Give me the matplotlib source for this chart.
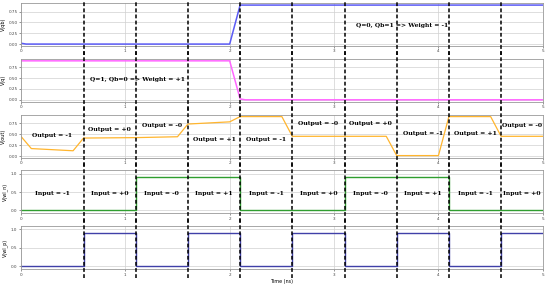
import matplotlib
matplotlib.use("Agg")
import matplotlib.pyplot as plt

# boundaries between input phases (ns)
phase_edges = [0.6, 1.1, 1.6, 2.1, 2.6, 3.1, 3.6, 4.1, 4.6]
label_x = [0.3, 0.85, 1.35, 1.85, 2.35, 2.85, 3.35, 3.85, 4.35, 4.8]

# V(qb) and V(q)
t_q = [0.0, 0.05, 2.0, 2.1, 2.15, 5.0]
v_qb = [0.02, 0.0, 0.0, 0.9, 0.9, 0.9]
v_q = [0.9, 0.9, 0.9, 0.02, 0.0, 0.0]

# V(out)
t_out = [0.0, 0.1, 0.5, 0.6, 1.1, 1.5, 1.6, 2.0, 2.1, 2.5, 2.6, 3.5, 3.6, 4.0, 4.1, 4.5, 4.6, 5.0]
v_out = [0.45, 0.17, 0.12, 0.41, 0.42, 0.44, 0.73, 0.78, 0.9, 0.9, 0.45, 0.45, 0.01, 0.01, 0.9, 0.9, 0.45, 0.45]
out_labels = ["Output = -1", "Output = +0", "Output = -0", "Output = +1", "Output = -1",
              "Output = -0", "Output = +0", "Output = -1", "Output = +1", "Output = -0"]
out_label_y = [0.46, 0.6, 0.69, 0.38, 0.38, 0.74, 0.74, 0.52, 0.52, 0.69]

# word lines (step signals)
t_wln = [0.0, 1.1, 2.1, 3.1, 4.1, 5.0]
v_wln = [0.0, 0.9, 0.0, 0.9, 0.0, 0.0]
t_wlp = [0.0, 0.6, 1.1, 1.6, 2.1, 2.6, 3.1, 3.6, 4.1, 4.6, 5.0]
v_wlp = [0.0, 0.9, 0.0, 0.9, 0.0, 0.9, 0.0, 0.9, 0.0, 0.9, 0.9]
in_labels = ["Input = -1", "Input = +0", "Input = -0", "Input = +1", "Input = -1",
             "Input = +0", "Input = -0", "Input = +1", "Input = -1", "Input = +0"]

fig, axes = plt.subplots(5, 1, figsize=(5.5, 2.85), dpi=100)
plt.subplots_adjust(left=0.038, right=0.987, top=0.989, bottom=0.056, hspace=0.3)

txt = dict(family="DejaVu Serif", fontweight="bold", fontsize=4.4, ha="center", va="center")

axes[0].plot(t_q, v_qb, color="#5b5bf5", lw=1.1)
axes[0].set_ylabel("V(qb)")
axes[0].text(3.65, 0.42, "Q=0, Qb=1 => Weight = -1", **txt)

axes[1].plot(t_q, v_q, color="#ff66ff", lw=1.1)
axes[1].set_ylabel("V(q)")
axes[1].text(1.12, 0.46, "Q=1, Qb=0 => Weight = +1", **txt)

axes[2].plot(t_out, v_out, color="#ffb52e", lw=0.9)
axes[2].set_ylabel("V(out)")
for x, y, s in zip(label_x, out_label_y, out_labels):
    axes[2].text(x, y, s, **txt)

axes[3].step(t_wln, v_wln, where="post", color="#2f9e2f", lw=1.0)
axes[3].set_ylabel("V(wl_n)")
for x, s in zip(label_x, in_labels):
    axes[3].text(x, 0.45, s, **txt)

axes[4].step(t_wlp, v_wlp, where="post", color="#4040a8", lw=1.0)
axes[4].set_ylabel("V(wl_p)")
axes[4].set_xlabel("Time (ns)", fontsize=3.5, labelpad=2)

for i, ax in enumerate(axes):
    ax.set_xlim(0, 5)
    if i < 3:
        ax.set_yticks([0.0, 0.25, 0.5, 0.75])
    else:
        ax.set_ylim(-0.08, 1.09)
        ax.set_yticks([0.0, 0.5, 1.0])
    ax.set_xticks(range(6))
    ax.grid(True, color="#d0d0d0", lw=0.5)
    ax.tick_params(labelsize=3, length=1.5, width=0.4, pad=1, colors="#444444")
    ax.yaxis.label.set_fontsize(3.5)
    ax.yaxis.labelpad = 2
    for sp in ax.spines.values():
        sp.set_color("#999999")
        sp.set_linewidth(0.6)
    for x in phase_edges:
        ax.axvline(x, ymin=-0.2, ymax=1.2, clip_on=False, color="black",
                   lw=1.1, dashes=(2.5, 1.5), zorder=5)

fig.savefig("out.png", dpi=100)
